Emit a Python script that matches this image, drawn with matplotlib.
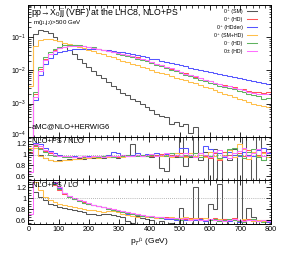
import numpy as np
import matplotlib
matplotlib.use("Agg")
import matplotlib.pyplot as plt
from matplotlib.ticker import MultipleLocator, FixedLocator, LogLocator, NullFormatter, FormatStrFormatter
from matplotlib.transforms import ScaledTranslation
from matplotlib.lines import Line2D

plt.rcParams['font.family'] = ['Liberation Sans', 'DejaVu Sans']
plt.rcParams['mathtext.fontset'] = 'custom'
plt.rcParams['mathtext.rm'] = 'Liberation Sans'
plt.rcParams['mathtext.it'] = 'Liberation Sans:italic'

# 16 GeV bins from 0 to 800 GeV
bin_width = 16
edges = np.arange(0, 800 + bin_width, bin_width)

labels = ['0\u207a (SM)', '0\u207a (HD)', '0\u207a (HDder)',
          '0\u207a (SM+HD)', '0\u207b (HD)', '0\u00b1 (HD)']
colors = ['#555555', '#ff5555', '#5555ff', '#ffbf4a', '#5fb35f', '#ff6eff']

# main panel: normalised distributions
sm = [0.009, 0.13, 0.168, 0.158, 0.132, 0.104, 0.078, 0.058, 0.043, 0.031,
      0.023, 0.017, 0.0128, 0.0097, 0.0075, 0.0058, 0.0045, 0.0035, 0.0027, 0.0021,
      0.0018, 0.0014, 0.0012, 0.00095, 0.00078, 0.00062, 0.00048, 0.00042, 0.0004, 0.00024,
      0.00027, 0.00021, 0.00025, 0.00013, 0.0002, 0.00008, 0.00009, 0.00005, 0.00007, 0.00004,
      0.00006, 0.00003, 0.00005, 0.00003, 0.00004, 0.00002, 0.00003, 0.00002, 0.00002, 0.00002]
hd = [2e-5, 0.0019, 0.011, 0.022, 0.032, 0.041, 0.048, 0.053, 0.056, 0.057,
      0.056, 0.054, 0.051, 0.048, 0.044, 0.041, 0.038, 0.035, 0.033, 0.031,
      0.029, 0.027, 0.025, 0.023, 0.021, 0.018, 0.016, 0.0142, 0.0128, 0.0114,
      0.0102, 0.0092, 0.0082, 0.0072, 0.0065, 0.0058, 0.0052, 0.0047, 0.0042, 0.0039,
      0.0036, 0.0033, 0.0031, 0.0028, 0.0027, 0.0024, 0.0022, 0.0023, 0.0021, 0.0022]
hdder = [2e-5, 0.0013, 0.0075, 0.016, 0.024, 0.031, 0.036, 0.04, 0.043, 0.045,
         0.046, 0.046, 0.046, 0.045, 0.044, 0.043, 0.041, 0.039, 0.037, 0.035,
         0.033, 0.031, 0.029, 0.027, 0.025, 0.023, 0.0215, 0.02, 0.0185, 0.017,
         0.0157, 0.0145, 0.0133, 0.0123, 0.0113, 0.0105, 0.0097, 0.009, 0.0083, 0.0078,
         0.0074, 0.0068, 0.0064, 0.006, 0.0056, 0.0052, 0.0048, 0.0045, 0.0042, 0.004]
smhd = [0.0035, 0.055, 0.085, 0.09, 0.087, 0.082, 0.076, 0.07, 0.064, 0.058,
        0.052, 0.047, 0.042, 0.038, 0.034, 0.031, 0.028, 0.025, 0.0225, 0.02,
        0.018, 0.016, 0.0142, 0.0128, 0.0115, 0.0103, 0.0093, 0.0084, 0.0076, 0.0068,
        0.0061, 0.0055, 0.005, 0.0045, 0.0041, 0.0037, 0.0032, 0.0029, 0.0026, 0.0023,
        0.002, 0.0018, 0.0016, 0.0014, 0.0013, 0.00115, 0.001, 0.0009, 0.00085, 0.00078]
mhd = [2e-5, 0.0022, 0.013, 0.026, 0.037, 0.046, 0.053, 0.058, 0.06, 0.06,
       0.058, 0.056, 0.053, 0.05, 0.046, 0.042, 0.039, 0.035, 0.032, 0.03,
       0.027, 0.025, 0.023, 0.021, 0.019, 0.017, 0.015, 0.0133, 0.0118, 0.0105,
       0.0094, 0.0084, 0.0075, 0.0067, 0.006, 0.0053, 0.0048, 0.0043, 0.0038, 0.0035,
       0.0032, 0.0029, 0.0027, 0.0024, 0.0022, 0.002, 0.0018, 0.0017, 0.0014, 0.0015]
pm = [2e-5, 0.0016, 0.0095, 0.021, 0.031, 0.04, 0.047, 0.052, 0.055, 0.056,
      0.056, 0.054, 0.051, 0.048, 0.045, 0.042, 0.039, 0.036, 0.033, 0.031,
      0.029, 0.027, 0.0245, 0.0225, 0.0205, 0.0182, 0.0162, 0.0145, 0.013, 0.0115,
      0.0102, 0.0091, 0.0081, 0.0073, 0.0066, 0.0059, 0.0053, 0.0047, 0.0043, 0.0038,
      0.0035, 0.0033, 0.003, 0.0027, 0.0026, 0.0023, 0.0021, 0.002, 0.0019, 0.0019]

# NLO+PS / NLO
r_nlo_sm = [1.02, 1.15, 1.0, 0.93, 0.9, 0.89, 0.9, 0.9, 0.91, 0.92,
            0.93, 0.92, 0.94, 0.93, 0.95, 0.94, 0.96, 0.95, 0.93, 0.97,
            0.98, 1.2, 1.0, 0.98, 0.97, 0.95, 1.0, 0.75, 0.7, 1.0,
            0.95, 1.6, 0.78, 0.95, 1.4, 0.9, 1.05, 0.45, 1.1, 0.45,
            1.05, 0.9, 1.1, 0.4, 1.5, 1.0, 0.45, 1.45, 0.9, 1.1]
r_nlo_hd = [1.05, 1.15, 1.12, 1.06, 1.02, 1.0, 0.98, 0.97, 0.96, 0.96,
            0.95, 0.96, 0.95, 0.96, 0.96, 0.97, 0.96, 0.97, 0.96, 0.98,
            0.97, 0.98, 0.99, 0.97, 1.0, 0.98, 0.99, 1.01, 0.97, 1.0,
            0.98, 1.02, 0.97, 1.0, 0.96, 1.03, 0.98, 0.94, 1.02, 0.9,
            1.05, 1.0, 0.95, 1.03, 0.98, 1.08, 0.97, 1.0, 1.05, 0.99]
r_nlo_hdder = [1.0, 1.22, 1.2, 1.12, 1.07, 1.03, 1.0, 0.98, 0.97, 0.97,
               0.96, 0.97, 0.97, 0.98, 0.97, 0.98, 0.99, 1.04, 1.03, 1.0,
               0.99, 1.0, 1.02, 0.99, 1.01, 1.0, 1.02, 0.99, 1.01, 0.98,
               1.03, 1.12, 1.13, 1.0, 0.97, 1.02, 1.15, 1.1, 0.98, 1.02,
               0.96, 1.04, 1.0, 0.97, 1.05, 1.0, 0.98, 1.08, 1.12, 1.03]
r_nlo_smhd = [1.12, 1.13, 0.98, 0.93, 0.9, 0.89, 0.89, 0.9, 0.9, 0.91,
              0.92, 0.93, 0.94, 0.95, 0.94, 0.95, 0.96, 0.95, 0.97, 0.96,
              0.98, 0.97, 0.99, 0.98, 0.97, 1.0, 0.98, 0.97, 1.0, 0.96,
              1.02, 0.98, 0.95, 1.03, 0.98, 1.0, 0.95, 1.05, 0.97, 0.92,
              1.0, 1.08, 0.95, 1.2, 1.1, 0.92, 1.05, 0.98, 1.02, 0.96]
r_nlo_mhd = [1.08, 1.18, 1.1, 1.05, 1.0, 0.98, 0.97, 0.96, 0.96, 0.95,
             0.96, 0.95, 0.96, 0.97, 0.96, 0.97, 0.97, 0.96, 0.98, 0.97,
             0.99, 0.98, 0.97, 1.0, 0.98, 0.99, 0.97, 1.0, 0.98, 1.02,
             0.99, 0.96, 1.0, 0.98, 1.02, 0.95, 1.0, 0.97, 1.05, 0.93,
             0.98, 1.1, 1.12, 1.0, 0.93, 1.05, 1.1, 0.95, 0.9, 1.0]
r_nlo_pm = [0.68, 1.2, 1.15, 1.08, 1.04, 1.0, 0.98, 0.97, 0.97, 0.96,
            0.96, 0.97, 0.96, 0.97, 0.97, 0.96, 0.98, 0.97, 0.97, 0.99,
            0.98, 0.97, 1.0, 0.98, 0.99, 1.01, 0.97, 0.99, 1.02, 0.98,
            1.0, 0.97, 1.03, 0.99, 0.95, 1.02, 1.0, 0.96, 1.04, 1.08,
            0.97, 0.94, 1.02, 1.06, 1.12, 0.98, 1.02, 1.1, 0.98, 1.05]

# NLO+PS / LO
r_lo_sm = [1.25, 1.12, 1.02, 0.96, 0.9, 0.87, 0.84, 0.82, 0.8, 0.78,
           0.77, 0.75, 0.72, 0.71, 0.7, 0.71, 0.72, 0.7, 0.68, 0.66,
           0.58, 0.55, 0.68, 0.64, 0.62, 0.6, 0.5, 0.58, 0.45, 0.55,
           0.5, 0.82, 0.5, 0.45, 1.2, 0.5, 0.4, 0.9, 0.8, 1.25,
           0.62, 0.4, 0.5, 1.5, 0.45, 0.82, 0.66, 0.45, 0.5, 0.45]
r_lo_hd = [1.6, 1.6, 1.6, 1.6, 1.5, 1.24, 1.15, 1.08, 1.03, 0.99,
           0.96, 0.93, 0.9, 0.88, 0.86, 0.84, 0.82, 0.8, 0.77, 0.76,
           0.74, 0.72, 0.71, 0.69, 0.68, 0.67, 0.66, 0.65, 0.65, 0.64,
           0.63, 0.64, 0.62, 0.63, 0.62, 0.64, 0.61, 0.62, 0.63, 0.6,
           0.62, 0.61, 0.63, 0.6, 0.61, 0.62, 0.6, 0.61, 0.6, 0.61]
r_lo_hdder = [1.6, 1.6, 1.6, 1.6, 1.5, 1.28, 1.18, 1.1, 1.04, 0.99,
              0.95, 0.92, 0.89, 0.87, 0.85, 0.83, 0.8, 0.78, 0.76, 0.74,
              0.72, 0.71, 0.69, 0.68, 0.66, 0.65, 0.64, 0.63, 0.62, 0.62,
              0.61, 0.63, 0.6, 0.61, 0.6, 0.62, 0.59, 0.6, 0.61, 0.58,
              0.6, 0.59, 0.6, 0.57, 0.59, 0.6, 0.58, 0.59, 0.58, 0.57]
r_lo_smhd = [1.45, 1.3, 1.15, 1.03, 0.97, 0.93, 0.9, 0.87, 0.85, 0.83,
             0.82, 0.8, 0.79, 0.78, 0.76, 0.75, 0.77, 0.76, 0.74, 0.72,
             0.7, 0.68, 0.66, 0.67, 0.65, 0.66, 0.64, 0.65, 0.63, 0.66,
             0.64, 0.63, 0.65, 0.62, 0.64, 0.6, 0.63, 0.61, 0.6, 0.62,
             0.59, 0.61, 0.6, 0.58, 0.62, 0.6, 0.58, 0.61, 0.59, 0.6]
r_lo_mhd = [1.6, 1.6, 1.6, 1.6, 1.45, 1.25, 1.16, 1.09, 1.03, 0.98,
            0.95, 0.92, 0.9, 0.88, 0.85, 0.83, 0.81, 0.79, 0.77, 0.75,
            0.73, 0.72, 0.7, 0.68, 0.67, 0.66, 0.65, 0.64, 0.63, 0.64,
            0.62, 0.61, 0.63, 0.6, 0.62, 0.6, 0.61, 0.6, 0.62, 0.58,
            0.6, 0.62, 0.6, 0.58, 0.57, 0.6, 0.62, 0.58, 0.56, 0.6]
r_lo_pm = [0.72, 1.6, 1.6, 1.6, 1.5, 1.3, 1.2, 1.1, 1.04, 1.0,
           0.96, 0.94, 0.91, 0.88, 0.86, 0.84, 0.82, 0.8, 0.78, 0.76,
           0.74, 0.73, 0.71, 0.7, 0.68, 0.67, 0.66, 0.65, 0.64, 0.63,
           0.64, 0.62, 0.63, 0.61, 0.62, 0.61, 0.6, 0.62, 0.6, 0.61,
           0.59, 0.6, 0.62, 0.6, 0.59, 0.61, 0.6, 0.58, 0.6, 0.59]

main_series = [sm, hd, hdder, smhd, mhd, pm]
nlo_series = [r_nlo_sm, r_nlo_hd, r_nlo_hdder, r_nlo_smhd, r_nlo_mhd, r_nlo_pm]
lo_series = [r_lo_sm, r_lo_hd, r_lo_hdder, r_lo_smhd, r_lo_mhd, r_lo_pm]

fig = plt.figure(figsize=(2.87, 2.58), dpi=100)
left, width = 0.0986, 0.8446
ax = fig.add_axes([left, 0.4702, width, 0.5104])
ax_nlo = fig.add_axes([left, 0.3023, width, 0.1679])
ax_lo = fig.add_axes([left, 0.1318, width, 0.1705])

lw = 0.75
for vals, c in zip(main_series, colors):
    ax.stairs(vals, edges, color=c, lw=lw)
for vals, c in zip(nlo_series, colors):
    ax_nlo.stairs(vals, edges, color=c, lw=lw)
for vals, c in zip(lo_series, colors):
    ax_lo.stairs(vals, edges, color=c, lw=lw)

ax.set_yscale('log')
ax.set_ylim(1e-4, 0.95)
ax.yaxis.set_major_locator(FixedLocator([1e-4, 1e-3, 1e-2, 1e-1]))
ax.yaxis.set_minor_locator(LogLocator(base=10, subs=np.arange(2, 10)))
ax.yaxis.set_minor_formatter(NullFormatter())

for a in (ax, ax_nlo, ax_lo):
    a.set_xlim(0, 800)
    a.xaxis.set_major_locator(MultipleLocator(100))
    a.xaxis.set_minor_locator(MultipleLocator(20))
    a.tick_params(which='both', direction='in', top=True, right=True, labelsize=5.2, pad=1.5)
    a.tick_params(which='major', length=3.5, width=0.6)
    a.tick_params(which='minor', length=1.8, width=0.5)
    for s in a.spines.values():
        s.set_linewidth(0.7)
ax.tick_params(axis='y', labelsize=4.9)

for a in (ax_nlo, ax_lo):
    a.set_ylim(0.53, 1.33)
    a.yaxis.set_major_locator(MultipleLocator(0.2))
    a.yaxis.set_minor_locator(MultipleLocator(0.05))
    a.yaxis.set_major_formatter(FormatStrFormatter('%g'))
    a.axhline(1.0, color='#777777', lw=0.5, ls=(0, (1, 2)))

ax.tick_params(labelbottom=False)
ax_nlo.tick_params(labelbottom=False)

# lift the 10^-4 label a little so it clears the ratio panel's 1.2
lab = ax.yaxis.get_major_ticks()[0].label1
lab.set_transform(lab.get_transform() + ScaledTranslation(0, 0.025, fig.dpi_scale_trans))

ax.text(0.01, 0.944, 'pp\u2192X$_0$jj (VBF) at the LHC8, NLO+PS', transform=ax.transAxes,
        fontsize=6.3, va='center', ha='left')
ax.text(0.02, 0.866, 'm(j$_1$,j$_2$)>500 GeV', transform=ax.transAxes,
        fontsize=4.4, va='center', ha='left')
ax.text(0.014, 0.074, 'aMC@NLO+HERWIG6', transform=ax.transAxes,
        fontsize=5.4, va='center', ha='left')
ax_nlo.text(0.014, 0.885, 'NLO+PS / NLO', transform=ax_nlo.transAxes,
            fontsize=5.4, va='center', ha='left')
ax_lo.text(0.014, 0.864, 'NLO+PS / LO', transform=ax_lo.transAxes,
           fontsize=5.4, va='center', ha='left')

handles = [Line2D([], [], color=c, lw=lw) for c in colors]
ax.legend(handles, labels, loc='upper right', bbox_to_anchor=(0.943, 0.97),
          frameon=False, fontsize=3.8, markerfirst=False, handlelength=1.9,
          handletextpad=0.8, labelspacing=0.58, borderpad=0, borderaxespad=0)

ax_lo.set_xlabel(r'p$_T$$^{j_1}$ (GeV)', fontsize=6, labelpad=2)

fig.savefig('out.png', dpi=100)
